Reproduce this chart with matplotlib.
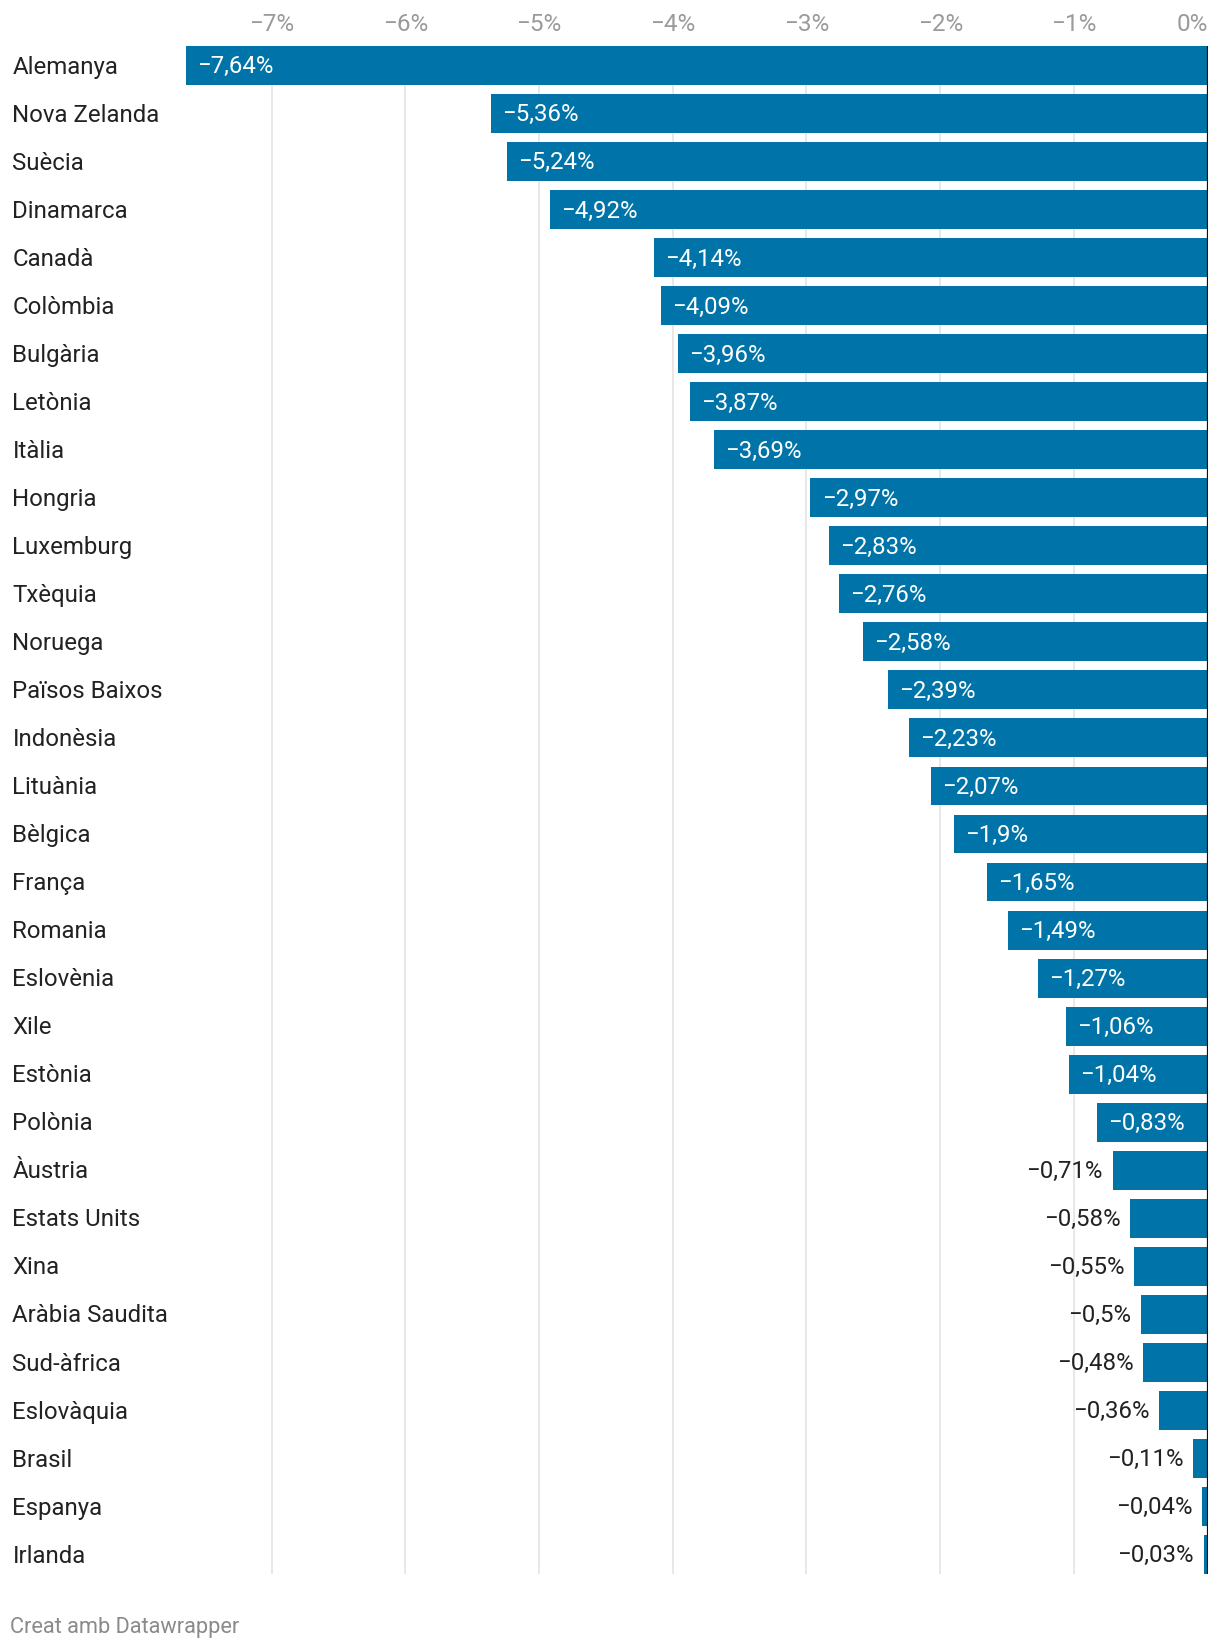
import matplotlib

matplotlib.use("Agg")
import matplotlib.pyplot as plt
from matplotlib.transforms import blended_transform_factory

countries = [
    "Alemanya", "Nova Zelanda", "Suècia", "Dinamarca", "Canadà", "Colòmbia",
    "Bulgària", "Letònia", "Itàlia", "Hongria", "Luxemburg", "Txèquia",
    "Noruega", "Països Baixos", "Indonèsia", "Lituània", "Bèlgica", "França",
    "Romania", "Eslovènia", "Xile", "Estònia", "Polònia", "Àustria",
    "Estats Units", "Xina", "Aràbia Saudita", "Sud-àfrica", "Eslovàquia",
    "Brasil", "Espanya", "Irlanda",
]
values = [
    -7.64, -5.36, -5.24, -4.92, -4.14, -4.09, -3.96, -3.87, -3.69, -2.97,
    -2.83, -2.76, -2.58, -2.39, -2.23, -2.07, -1.9, -1.65, -1.49, -1.27,
    -1.06, -1.04, -0.83, -0.71, -0.58, -0.55, -0.5, -0.48, -0.36, -0.11,
    -0.04, -0.03,
]
ticks = [-7, -6, -5, -4, -3, -2, -1, 0]
tick_labels = ["−7%", "−6%", "−5%", "−4%", "−3%", "−2%", "−1%", "0%"]
footer = "Creat amb Datawrapper"

BAR = "#0074a8"
TEXT = "#222222"
FS = 17.3
plt.rcParams["font.family"] = ["Roboto", "DejaVu Sans"]


def fmt(v):
    return f"{v:g}".replace(".", ",").replace("-", "−") + "%"


fig = plt.figure(figsize=(12.2, 16.5), dpi=100)
ax = fig.add_axes([0.1525, 0.0461, 0.9898 - 0.1525, 0.9721 - 0.0461])

h = 0.81
n = len(values)
ypos = list(range(n))
ax.barh(ypos, values, height=h, color=BAR, zorder=2)
ax.set_xlim(min(values), 0)
ax.set_ylim(n - 1 + h / 2, -h / 2)

for x in ticks[:-1]:
    ax.axvline(x, color="#e2e2e2", lw=1.1, zorder=1)
ax.axvline(0, color="#111111", lw=1.6, zorder=3)

ax.set_xticks(ticks)
ax.set_xticklabels(tick_labels)
ax.tick_params(axis="x", top=True, labeltop=True, bottom=False, labelbottom=False,
               length=0, pad=7, labelsize=17.5, labelcolor="#9a9a9a")
# last tick label sits flush against the zero line
ax.get_xticklabels(which="major")[-1].set_horizontalalignment("right")
ax.set_yticks([])
for s in ax.spines.values():
    s.set_visible(False)

trans = blended_transform_factory(fig.transFigure, ax.transData)
for y, name, v in zip(ypos, countries, values):
    ax.annotate(name, (12.5 / 1220, y), xycoords=trans, xytext=(0, -1.2),
                textcoords="offset points", ha="left", va="center",
                fontsize=FS, color=TEXT, annotation_clip=False)
    if v <= -0.8:
        ax.annotate(fmt(v), (v, y), xytext=(8, -1), textcoords="offset points",
                    ha="left", va="center", fontsize=FS, color="white", zorder=4)
    else:
        ax.annotate(fmt(v), (v, y), xytext=(-7, -1), textcoords="offset points",
                    ha="right", va="center", fontsize=FS, color=TEXT, zorder=4)

fig.text(10 / 1220, 1 - 1627 / 1650, footer, ha="left", va="center",
         fontsize=15.7, color="#8a8a8a")

fig.savefig("out.png", dpi=100)
plt.close(fig)
